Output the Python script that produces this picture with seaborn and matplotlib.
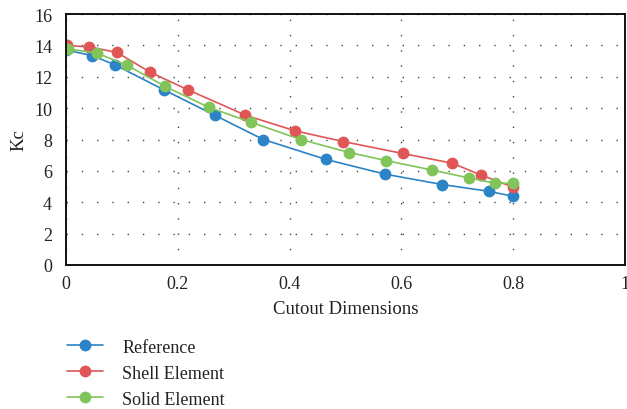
import matplotlib
matplotlib.use("Agg")
import matplotlib.pyplot as plt
import seaborn as sns
import pandas as pd

ref_x = [0.0, 0.047, 0.088, 0.176, 0.267, 0.353, 0.465, 0.571, 0.673, 0.756, 0.8]
ref_y = [13.7, 13.35, 12.75, 11.15, 9.53, 8.0, 6.73, 5.79, 5.13, 4.7, 4.38]

shell_x = [0.001, 0.042, 0.091, 0.151, 0.218, 0.321, 0.41, 0.496, 0.602, 0.691, 0.742, 0.8]
shell_y = [14.0, 13.9, 13.55, 12.28, 11.17, 9.55, 8.55, 7.87, 7.11, 6.49, 5.74, 4.96]

solid_x = [0.004, 0.055, 0.109, 0.177, 0.256, 0.331, 0.42, 0.507, 0.572, 0.654, 0.721, 0.768, 0.8]
solid_y = [13.77, 13.51, 12.74, 11.39, 10.04, 9.1, 8.0, 7.17, 6.66, 6.06, 5.55, 5.21, 5.21]

series_names = ["Reference", "Shell Element", "Solid Element"]
x_ticks = [0, 0.2, 0.4, 0.6, 0.8, 1]
x_tick_labels = ["0", "0.2", "0.4", "0.6", "0.8", "1"]
y_ticks = list(range(0, 17, 2))

frames = []
for name, xs, ys in zip(series_names, [ref_x, shell_x, solid_x], [ref_y, shell_y, solid_y]):
    frames.append(pd.DataFrame({"x": xs, "y": ys, "Series": name}))
df = pd.concat(frames, ignore_index=True)

sns.set_theme(style="white")
plt.rcParams["font.family"] = ["Liberation Serif", "DejaVu Serif"]

palette = {"Reference": "#2a84c6", "Shell Element": "#e05656", "Solid Element": "#80c45a"}

fig = plt.figure(figsize=(6.27, 4.10), dpi=100)
ax = fig.add_axes([66 / 627, 1 - 266 / 410, (625 - 66) / 627, (266 - 15) / 410])

sns.lineplot(data=df, x="x", y="y", hue="Series", palette=palette, sort=False,
             marker="o", markersize=8.5, markeredgewidth=0, linewidth=1.2,
             estimator=None, ax=ax, legend=True)

ax.set_xlim(0, 1)
ax.set_ylim(0, 16)
ax.set_xticks(x_ticks)
ax.set_xticklabels(x_tick_labels)
ax.set_yticks(y_ticks)
ax.tick_params(axis="both", length=0, labelsize=13, colors="#222222")
ax.tick_params(axis="y", pad=10)
ax.tick_params(axis="x", pad=7)

ax.grid(True, color="#444444", linestyle=(0, (1, 10)), linewidth=1.0)
for s in ax.spines.values():
    s.set_color("#111111")
    s.set_linewidth(1.4)

ax.set_xlabel("Cutout Dimensions", fontsize=13.5, color="#222222", labelpad=6)
ax.set_ylabel("Kc", fontsize=13.5, color="#222222", labelpad=5)

leg = ax.legend(loc="upper left", bbox_to_anchor=(-0.012, -0.265), frameon=False,
                fontsize=13, handlelength=2.0, handletextpad=1.1, labelspacing=0.5,
                borderaxespad=0)
for t in leg.get_texts():
    t.set_color("#222222")

fig.savefig("out.png", dpi=100)
